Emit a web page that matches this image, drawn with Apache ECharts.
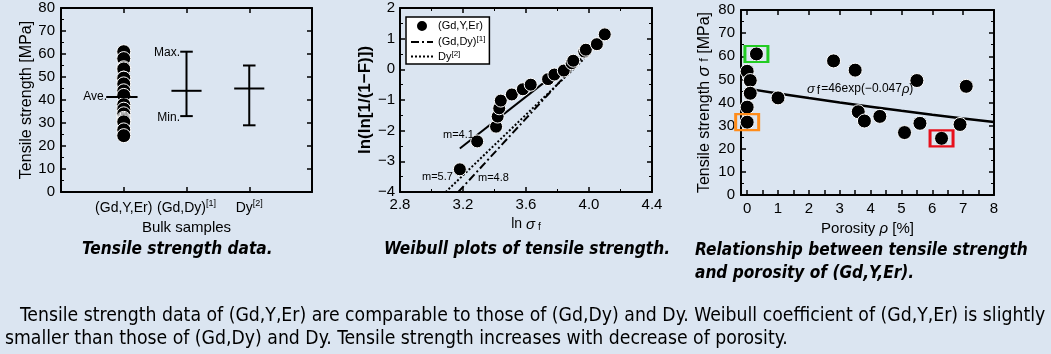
<!DOCTYPE html>
<html><head><meta charset="utf-8">
<script src="https://cdn.jsdelivr.net/npm/echarts@6/dist/echarts.min.js"></script>
<style>html,body{margin:0;padding:0;background:#dbe5f1;}#c{width:1051px;height:354px;}</style>
</head><body><div id="c"></div>
<script>
// ---------- Chart 1: tensile strength data ----------
const bulkCategories = ['(Gd,Y,Er)', '(Gd,Dy)', 'Dy'];
const bulkRefs = ['', '[1]', '[2]'];
const gdyerStrength = [61, 58, 54, 53.5, 49.5, 49.5, 47, 44, 42, 38, 36, 34, 32, 31.5, 31, 30.5, 27, 24.5];
const gdyerAverage = 41.3;
const refMax = [61, 55];
const refAve = [44, 45];
const refMin = [33, 29];

// ---------- Chart 2: Weibull plot ----------
const lnSigma = [3.18, 3.29, 3.41, 3.42, 3.43, 3.44, 3.51, 3.58, 3.63, 3.74, 3.78, 3.84, 3.89, 3.90, 3.97, 3.98, 4.05, 4.10];
const lnlnF = [-3.26, -2.35, -1.87, -1.54, -1.27, -1.02, -0.82, -0.65, -0.50, -0.32, -0.17, -0.04, 0.20, 0.28, 0.58, 0.64, 0.82, 1.14];
const fitGdYEr = [[3.18, -2.58], [3.72, -0.41]];
const fitGdDy = [[3.17, -4.0], [3.95, 0.35]];
const fitDy = [[3.09, -4.0], [3.97, 0.35]];
const weibullXTicks = [2.8, 3.2, 3.6, 4.0, 4.4];

// ---------- Chart 3: strength vs porosity ----------
const porosity = [0.3, 0, 0.1, 0.1, 0, 0, 1, 2.8, 3.5, 3.6, 3.8, 4.3, 5.1, 5.5, 5.6, 6.3, 6.9, 7.1];
const strength = [61, 53.5, 49.5, 44, 38, 31.5, 42, 58, 54, 36, 32, 34, 27, 49.5, 31, 24.5, 30.5, 47];
const fitPorosity = [0, 1, 2, 3, 4, 5, 6, 7, 8];
const fitStrength = [46, 43.9, 41.9, 40, 38.2, 36.4, 34.7, 33.1, 31.6];
const highlightGreen = [0.3, 61];
const highlightOrange = [0, 31.5];
const highlightRed = [6.3, 24.5];
const porosityTicks = [0, 1, 2, 3, 4, 5, 6, 7, 8];

const FONT = '"Liberation Sans", Arial, sans-serif';
const CAPFONT = '"Liberation Sans Narrow", "DejaVu Sans Condensed", sans-serif';

function ax(o) {
  const base = {
    type: 'value', splitLine: {show: false},
    axisLine: {show: true, onZero: false, lineStyle: {color: '#000', width: 2}},
    axisTick: {show: true, inside: true, length: 5, lineStyle: {color: '#000', width: 1.5}},
    minorTick: {show: false},
    axisLabel: {show: true, color: '#000', fontSize: 15, fontFamily: FONT, margin: 6},
    nameTextStyle: {color: '#000', fontSize: 15, fontFamily: FONT}
  };
  for (const k in o) {
    if (base[k] && typeof base[k] === 'object' && !Array.isArray(base[k]) && typeof o[k] === 'object')
      base[k] = Object.assign({}, base[k], o[k]);
    else base[k] = o[k];
  }
  return base;
}
const minor = {show: true, splitNumber: 2, length: 3, lineStyle: {color: '#000', width: 1}};
const minus = v => (v < 0 ? '\u2212' + Math.abs(v) : String(v));

function seg(name, pts, xi, yi, style, z) {
  return {type: 'line', name: name, xAxisIndex: xi, yAxisIndex: yi, data: pts, symbol: 'none', showSymbol: false,
    silent: true, animation: false, z: z || 3, lineStyle: Object.assign({color: '#000', width: 2}, style || {}),
    itemStyle: {color: '#000'}};
}

const series = [];
// chart 1
series.push({type: 'scatter', name: '(Gd,Y,Er)', xAxisIndex: 0, yAxisIndex: 0, data: gdyerStrength.map(v => [1, v]),
  symbolSize: 14, itemStyle: {color: '#000', borderColor: '#fff', borderWidth: 1, opacity: 1}, z: 2, animation: false});
series.push(seg(null, [[0.72, gdyerAverage], [1.22, gdyerAverage]], 0, 0, null, 5));
refMax.forEach((mx, i) => {
  const x = i + 2;
  series.push(seg(null, [[x, refMin[i]], [x, mx]], 0, 0));
  series.push(seg(null, [[x - 0.1, mx], [x + 0.1, mx]], 0, 0));
  series.push(seg(null, [[x - 0.1, refMin[i]], [x + 0.1, refMin[i]]], 0, 0));
  series.push(seg(null, [[x - 0.24, refAve[i]], [x + 0.24, refAve[i]]], 0, 0));
});
// chart 2
series.push({type: 'scatter', name: '(Gd,Y,Er)', xAxisIndex: 2, yAxisIndex: 2, data: lnSigma.map((x, i) => [x, lnlnF[i]]),
  symbolSize: 13, itemStyle: {color: '#000', borderColor: '#fff', borderWidth: 1, opacity: 1}, z: 4, animation: false});
series.push(seg(null, fitGdYEr, 2, 2, {width: 2}));
series.push(seg('(Gd,Dy)', fitGdDy, 2, 2, {width: 2, type: [8, 3, 2, 3]}));
series.push(seg('Dy', fitDy, 2, 2, {width: 2, type: [2, 2]}));
// chart 3
series.push(seg(null, fitPorosity.map((p, i) => [p, fitStrength[i]]), 4, 4, {width: 2.5}, 2));
series.push({type: 'scatter', name: 'pts3', xAxisIndex: 4, yAxisIndex: 4, data: porosity.map((p, i) => [p, strength[i]]),
  symbolSize: 14, itemStyle: {color: '#000', borderColor: '#fff', borderWidth: 1, opacity: 1}, z: 4, animation: false});
[[highlightGreen, '#22cc22'], [highlightOrange, '#ff8c1a'], [highlightRed, '#e8101c']].forEach(([pt, c]) => {
  series.push({type: 'scatter', xAxisIndex: 4, yAxisIndex: 4, data: [pt], symbol: 'rect', symbolSize: [23, 16],
    itemStyle: {color: 'rgba(0,0,0,0)', borderColor: c, borderWidth: 2.5, opacity: 1}, z: 5, silent: true, animation: false});
});

const supRich = {
  n: {fontSize: 14, fontFamily: FONT, color: '#000', lineHeight: 18},
  s: {fontSize: 9, fontFamily: FONT, color: '#000', verticalAlign: 'top', lineHeight: 10}
};
const hiddenSymbol = {color: 'rgba(0,0,0,0)', borderColor: 'rgba(0,0,0,0)', borderWidth: 0, opacity: 0};

const option = {
  backgroundColor: '#dbe5f1',
  animation: false,
  grid: [
    {left: 61, top: 8, width: 251, height: 184},
    {left: 400, top: 8, width: 252, height: 184},
    {left: 741, top: 10, width: 253, height: 185}
  ],
  xAxis: [
    ax({gridIndex: 0, min: 0, max: 4, interval: 1, position: 'bottom',
      axisTick: {customValues: [1, 2, 3]},
      axisLabel: {customValues: [1, 2, 3], margin: 7, formatter: v => {
        const i = Math.round(v) - 1; if (i < 0 || i > 2) return '';
        return '{n|' + bulkCategories[i] + '}' + (bulkRefs[i] ? '{s|' + bulkRefs[i] + '}' : '');
      }, rich: supRich},
      name: 'Bulk samples', nameLocation: 'middle', nameGap: 25}),
    ax({gridIndex: 0, min: 0, max: 4, interval: 1, position: 'top', axisTick: {customValues: [1, 2, 3]}, axisLabel: {show: false}}),
    ax({gridIndex: 1, min: 2.8, max: 4.4, interval: 0.4, position: 'bottom', minorTick: minor,
      axisLabel: {formatter: v => v.toFixed(1), margin: 5, customValues: weibullXTicks},
      name: '{a|ln}{i|\u03c3}{f|f}', nameLocation: 'middle', nameGap: 13,
      nameTextStyle: {rich: {a: {fontSize: 14, fontFamily: FONT, color: '#000', lineHeight: 16},
        i: {fontSize: 15, fontFamily: FONT, fontStyle: 'italic', color: '#000', lineHeight: 16, padding: [0, 0, 0, 4]},
        f: {fontSize: 10, fontFamily: FONT, color: '#000', verticalAlign: 'bottom', lineHeight: 10, padding: [0, 0, 0, 3]}}}}),
    ax({gridIndex: 1, min: 2.8, max: 4.4, interval: 0.4, position: 'top', minorTick: minor, axisLabel: {show: false}}),
    ax({gridIndex: 2, min: -0.2, max: 8, position: 'bottom',
      axisTick: {customValues: porosityTicks.concat(porosityTicks.slice(0, 8).map(v => v + 0.5))},
      axisLabel: {customValues: porosityTicks, margin: 6},
      name: 'Porosity {i|\u03c1} [%]', nameLocation: 'middle', nameGap: 26,
      nameTextStyle: {fontSize: 15, rich: {i: {fontSize: 15, fontFamily: FONT, fontStyle: 'italic', color: '#000'}}}}),
    ax({gridIndex: 2, min: -0.2, max: 8, position: 'top',
      axisTick: {customValues: porosityTicks}, axisLabel: {show: false}})
  ],
  yAxis: [
    ax({gridIndex: 0, min: 0, max: 80, interval: 10, position: 'left', minorTick: minor,
      name: 'Tensile strength [MPa]', nameLocation: 'middle', nameGap: 26, nameTextStyle: {fontSize: 16}}),
    ax({gridIndex: 0, min: 0, max: 80, interval: 10, position: 'right', axisLabel: {show: false}}),
    ax({gridIndex: 1, min: -4, max: 2, interval: 1, position: 'left', minorTick: minor,
      axisLabel: {formatter: minus, margin: 5},
      name: 'ln(ln[1/(1\u2212F)])', nameLocation: 'middle', nameGap: 24,
      nameTextStyle: {fontWeight: 'bold', fontSize: 17}}),
    ax({gridIndex: 1, min: -4, max: 2, interval: 1, position: 'right', minorTick: minor, axisLabel: {show: false}}),
    ax({gridIndex: 2, min: 0, max: 80, interval: 10, position: 'left', minorTick: minor,
      name: 'Tensile strength {i|\u03c3} {f|f} [MPa]', nameLocation: 'middle', nameGap: 28,
      nameTextStyle: {fontSize: 16, rich: {i: {fontSize: 17, fontFamily: FONT, fontStyle: 'italic', color: '#000'},
        f: {fontSize: 13, fontFamily: FONT, color: '#000'}}}}),
    ax({gridIndex: 2, min: 0, max: 80, interval: 10, position: 'right', minorTick: minor, axisLabel: {show: false}})
  ],
  legend: {
    show: true, left: 406, top: 17, orient: 'vertical', selectedMode: false,
    data: [{name: '(Gd,Y,Er)', icon: 'circle'}, {name: '(Gd,Dy)', itemStyle: hiddenSymbol}, {name: 'Dy', itemStyle: hiddenSymbol}],
    backgroundColor: '#fff', borderColor: '#000', borderWidth: 1.5, borderRadius: 0,
    padding: [2, 4, 2, 4], itemGap: 2, itemWidth: 22, itemHeight: 12,
    textStyle: {fontSize: 11, fontFamily: FONT, color: '#000',
      rich: {n: {fontSize: 11, fontFamily: FONT, color: '#000', lineHeight: 14},
        s: {fontSize: 8, fontFamily: FONT, color: '#000', verticalAlign: 'top', lineHeight: 8}}},
    formatter: n => n === '(Gd,Dy)' ? '{n|(Gd,Dy)}{s|[1]}' : (n === 'Dy' ? '{n|Dy}{s|[2]}' : '{n|' + n + '}')
  },
  series: series,
  graphic: []
};

// text annotations
function txt(x, y, text, extra) {
  return {type: 'text', x: x, y: y, silent: true, z: 100,
    style: Object.assign({text: text, fontSize: 12, fontFamily: FONT, fill: '#000', align: 'left', verticalAlign: 'middle'}, extra || {})};
}
const g = option.graphic;
g.push(txt(107, 97, 'Ave.', {align: 'right'}));
g.push(txt(180, 53, 'Max.', {align: 'right'}));
g.push(txt(180, 118, 'Min.', {align: 'right'}));
g.push(txt(443, 135, 'm=4.1', {fontSize: 11}));
g.push(txt(422, 177, 'm=5.7', {fontSize: 11}));
g.push(txt(478, 178, 'm=4.8', {fontSize: 11}));
g.push(txt(807, 89, '{i|\u03c3}{f|f}{n|=46exp(\u22120.047}{i|\u03c1}{n|)}', {
  rich: {i: {fontSize: 13, fontFamily: FONT, fontStyle: 'italic', fill: '#000'},
    f: {fontSize: 12, fontFamily: FONT, fill: '#000', padding: [4, 1, 0, 2]},
    n: {fontSize: 12, fontFamily: FONT, fill: '#000'}}}));

// captions & paragraph, size fitted to measured widths
const ctx = document.createElement('canvas').getContext('2d');
function fit(text, fam, weight, style, target) {
  ctx.font = style + ' ' + weight + ' 100px ' + fam;
  return 100 * target / ctx.measureText(text).width;
}
const capSize = fit('Relationship between tensile strength', CAPFONT, 'bold', 'italic', 333);
const capStyle = {fontSize: capSize, fontFamily: CAPFONT, fontWeight: 'bold', fontStyle: 'italic'};
g.push(txt(82, 250, 'Tensile strength data.', capStyle));
g.push(txt(670, 250, 'Weibull plots of tensile strength.', Object.assign({align: 'right'}, capStyle)));
g.push(txt(695, 251, 'Relationship between tensile strength', capStyle));
g.push(txt(695, 274, 'and porosity of (Gd,Y,Er).', capStyle));
const para1 = 'Tensile strength data of (Gd,Y,Er) are comparable to those of (Gd,Dy) and Dy. Weibull coefficient of (Gd,Y,Er) is slightly';
const para2 = 'smaller than those of (Gd,Dy) and Dy. Tensile strength increases with decrease of porosity.';
const paraSize = fit(para1, CAPFONT, 'normal', 'normal', 1026);
const paraStyle = {fontSize: paraSize, fontFamily: CAPFONT};
g.push(txt(20, 316, para1, paraStyle));
g.push(txt(5, 339, para2, paraStyle));

const chart = echarts.init(document.getElementById('c'), null, {renderer: 'canvas'});
chart.setOption(option);
</script></body></html>
